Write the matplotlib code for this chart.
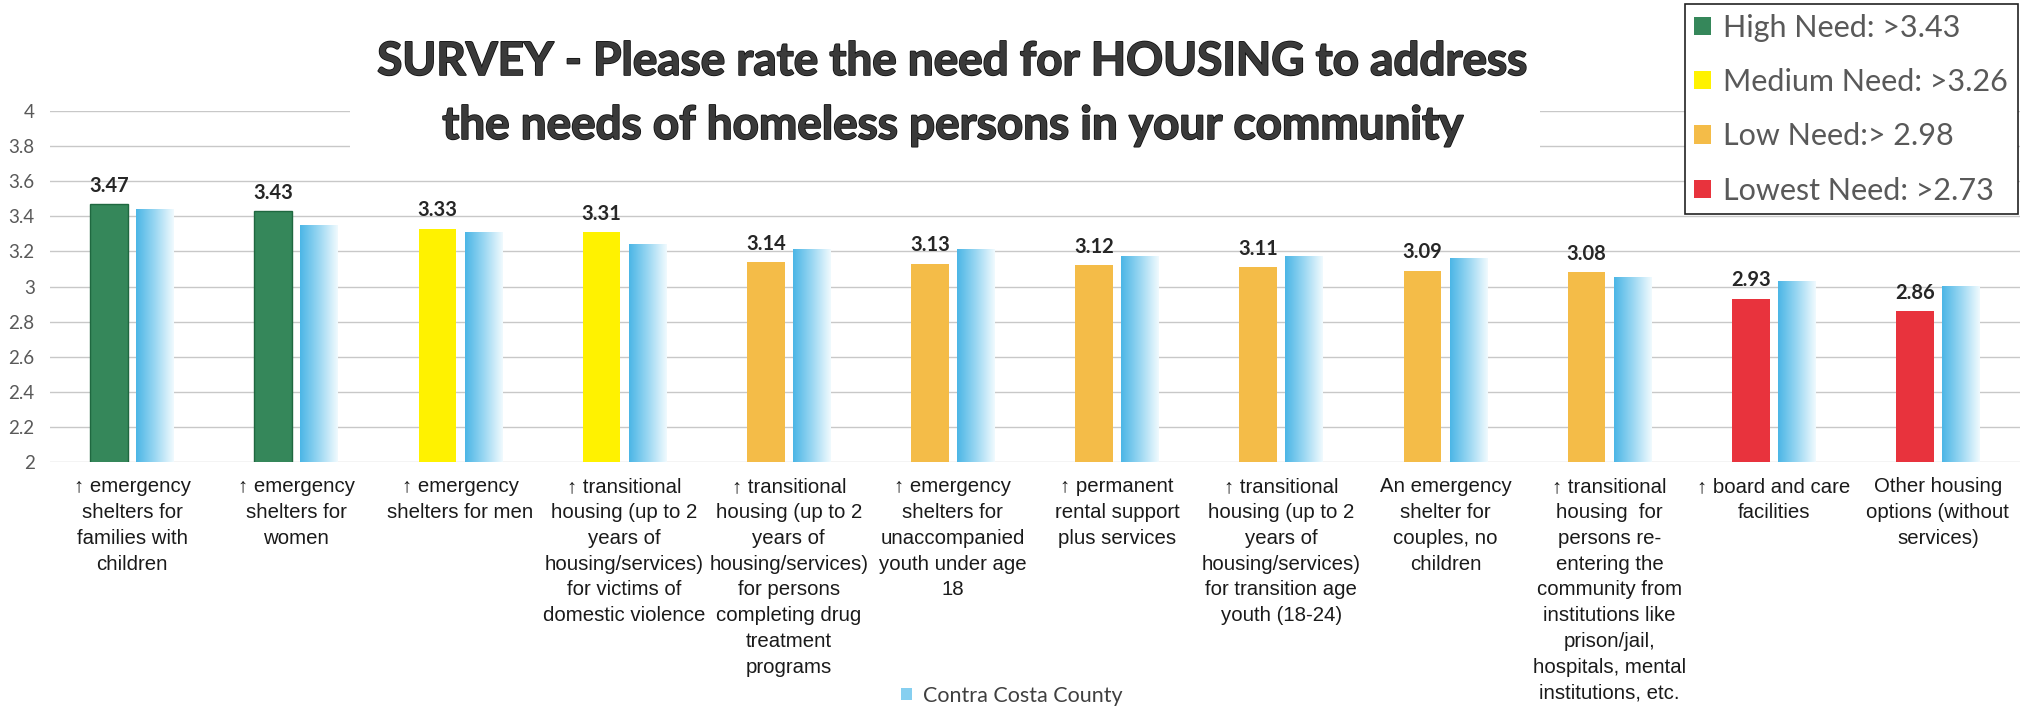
import numpy as np
import matplotlib
matplotlib.use("Agg")
import matplotlib.pyplot as plt
from matplotlib.patches import Patch, Rectangle
from matplotlib.colors import LinearSegmentedColormap
import matplotlib.patheffects as pe

# Survey data
categories = [
    "↑ emergency\nshelters for\nfamilies with\nchildren",
    "↑ emergency\nshelters for\nwomen",
    "↑ emergency\nshelters for men",
    "↑ transitional\nhousing (up to 2\nyears of\nhousing/services)\nfor victims of\ndomestic violence",
    "↑ transitional\nhousing (up to 2\nyears of\nhousing/services)\nfor persons\ncompleting drug\ntreatment\nprograms",
    "↑ emergency\nshelters for\nunaccompanied\nyouth under age\n18",
    "↑ permanent\nrental support\nplus services",
    "↑ transitional\nhousing (up to 2\nyears of\nhousing/services)\nfor transition age\nyouth (18-24)",
    "An emergency\nshelter for\ncouples, no\nchildren",
    "↑ transitional\nhousing  for\npersons re-\nentering the\ncommunity from\ninstitutions like\nprison/jail,\nhospitals, mental\ninstitutions, etc.",
    "↑ board and care\nfacilities",
    "Other housing\noptions (without\nservices)",
]
survey_scores = [3.47, 3.43, 3.33, 3.31, 3.14, 3.13, 3.12, 3.11, 3.09, 3.08, 2.93, 2.86]
county_scores = [3.44, 3.35, 3.31, 3.24, 3.21, 3.21, 3.17, 3.17, 3.16, 3.05, 3.03, 3.00]
need_level = ["High", "High", "Medium", "Medium", "Low", "Low", "Low", "Low",
              "Low", "Low", "Lowest", "Lowest"]

level_names = ["High", "Medium", "Low", "Lowest"]
level_labels = ["High Need: >3.43", "Medium Need: >3.26", "Low Need:> 2.98", "Lowest Need: >2.73"]
level_colors = {"High": "#35875a", "Medium": "#fff200", "Low": "#f4bc48", "Lowest": "#e8333d"}

y_ticks = [2, 2.2, 2.4, 2.6, 2.8, 3, 3.2, 3.4, 3.6, 3.8, 4]
y_tick_labels = ["2", "2.2", "2.4", "2.6", "2.8", "3", "3.2", "3.4", "3.6", "3.8", "4"]

title_lines = ["SURVEY - Please rate the need for HOUSING to address",
               "the needs of homeless persons in your community"]

W, H = 2030, 707
fig = plt.figure(figsize=(W / 100, H / 100), dpi=100)
ax = fig.add_axes([50 / W, 1 - 462 / H, 1970 / W, 351 / H])

x = np.arange(len(categories))
bw = 0.23
off = 0.14

colors = [level_colors[l] for l in need_level]
bars = ax.bar(x - off, survey_scores, bw, color=colors, zorder=3)
for b, l in zip(bars, need_level):
    if l == "High":
        b.set_edgecolor("#1f6840")
        b.set_linewidth(1)

# county bars with a blue-to-white gradient
blue_cmap = LinearSegmentedColormap.from_list("cc", ["#4cb6e6", "#9ad7f2", "#f0fafe"])
grad = np.linspace(0, 1, 64).reshape(1, -1)
cbars = ax.bar(x + off, county_scores, bw, color="none", zorder=3)
for b in cbars:
    ax.imshow(grad, extent=[b.get_x(), b.get_x() + b.get_width(), 0, b.get_height()],
              aspect="auto", cmap=blue_cmap, zorder=3, interpolation="bilinear")

for b, v in zip(bars, survey_scores):
    ax.annotate(f"{v:.2f}", (b.get_x() + b.get_width() / 2, v), xytext=(0, 6),
                textcoords="offset points", ha="center", va="bottom",
                fontsize=14.5, fontweight="bold", color="#262626", family="Lato")

ax.set_xlim(-0.5, len(categories) - 0.5)
ax.set_ylim(2, 4)
ax.set_yticks(y_ticks)
ax.set_yticklabels(y_tick_labels, family="Lato", fontsize=13.5, color="#595959")
ax.set_xticks(x)
ax.set_xticklabels(categories, fontsize=14.7, color="#1a1a1a", linespacing=1.45,
                   family=["Liberation Sans Narrow", "Liberation Sans", "DejaVu Sans"])
ax.tick_params(axis="both", length=0)
ax.tick_params(axis="y", pad=11)
ax.tick_params(axis="x", pad=11)
ax.grid(axis="y", color="#c8c8c8", linewidth=1, zorder=0)
ax.set_axisbelow(True)
for s in ax.spines.values():
    s.set_visible(False)

# white title box hiding the top gridlines
fig.patches.append(Rectangle((350 / W, 1 - 162 / H), 1190 / W, 135 / H,
                             transform=fig.transFigure, facecolor="white",
                             edgecolor="none", zorder=1))
for i, line in enumerate(title_lines):
    fig.text(953 / W, 1 - (62 + 64 * i) / H, line, ha="center", va="center",
             fontsize=33, fontweight="bold", color="#3a3a3a", family="Lato", zorder=2,
             path_effects=[pe.withStroke(linewidth=1.2, foreground="#111111")])

# need level legend (top right)
handles = [Patch(facecolor=level_colors[n], edgecolor="none") for n in level_names]
leg = fig.legend(handles, level_labels, loc="upper right",
                 bbox_to_anchor=(2018 / W, 1 - 4 / H), bbox_transform=fig.transFigure,
                 prop={"family": "Lato", "size": 22}, labelcolor="#595959",
                 frameon=True, fancybox=False, edgecolor="#222222", framealpha=1,
                 handlelength=0.55, handleheight=0.55, handletextpad=0.4,
                 labelspacing=0.86, borderpad=0.32, borderaxespad=0)
leg.get_frame().set_linewidth(1.2)

# series legend (bottom)
fig.legend([Patch(facecolor="#86cff0", edgecolor="none")], ["Contra Costa County"],
           loc="center", bbox_to_anchor=(1012 / W, 11 / H), bbox_transform=fig.transFigure,
           prop={"family": "Lato", "size": 15.5}, labelcolor="#404040", frameon=False,
           handlelength=0.5, handleheight=0.5, handletextpad=0.5)

fig.savefig("out.png", dpi=100, facecolor="white")
